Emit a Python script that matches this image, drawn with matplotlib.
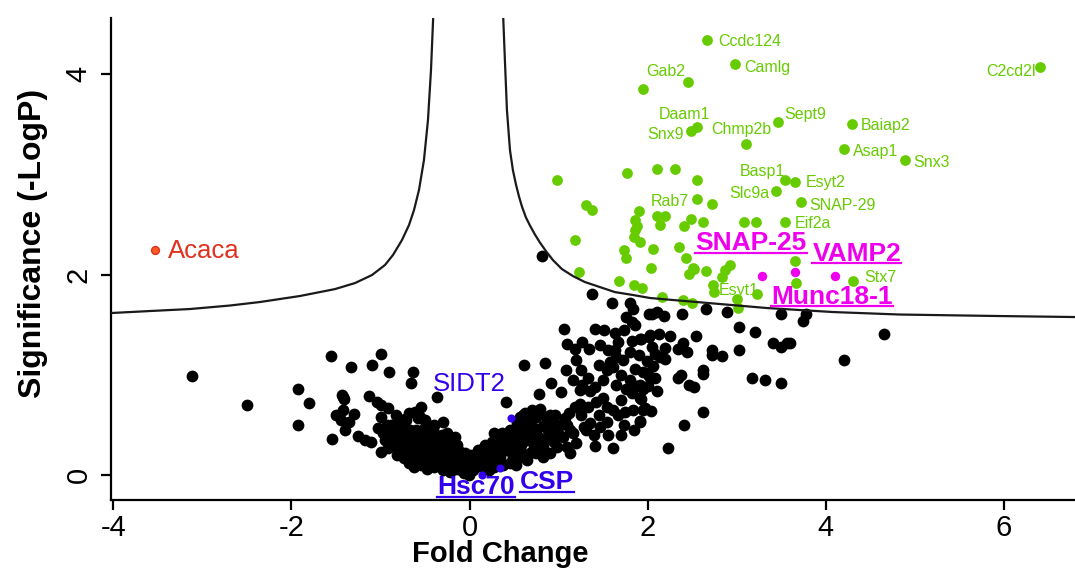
import matplotlib
matplotlib.use("Agg")
import matplotlib.pyplot as plt

plt.rcParams['font.family'] = ['Liberation Sans', 'DejaVu Sans']
plt.rcParams['axes.unicode_minus'] = False

# --- data -------------------------------------------------------------
# not significant proteins (fold change, -log10 p)
black_pts = [
    (-3.12, 0.99), (-2.50, 0.70), (-1.93, 0.86), (-1.80, 0.72), (-1.93, 0.50), (-1.56, 1.19),
    (-1.33, 1.08), (-1.09, 1.10), (-0.99, 1.21), (-0.90, 1.03), (-0.64, 1.03), (-0.66, 0.92),
    (-1.43, 0.80), (-1.41, 0.76), (-1.13, 0.79), (-1.04, 0.73), (-1.00, 0.70), (-0.92, 0.67),
    (-0.54, 0.68), (-1.42, 0.65), (-1.50, 0.60), (-1.30, 0.61), (-1.44, 0.55), (-1.35, 0.53),
    (-0.99, 0.58), (-0.93, 0.50), (-0.80, 0.52), (-0.72, 0.56), (-0.61, 0.63), (-0.58, 0.57),
    (-1.40, 0.45), (-1.54, 0.36), (-1.25, 0.39), (-1.17, 0.35), (-1.11, 0.33), (-1.03, 0.47),
    (-0.97, 0.42), (-0.87, 0.38), (-0.99, 0.23), (-0.92, 0.27), (-0.74, 0.17), (-0.67, 0.45),
    (-0.74, 0.35), (-0.63, 0.38), (-0.67, 0.25), (-0.59, 0.17), (-0.52, 0.28), (-0.37, 0.78),
    (-1.42, 0.78), (-0.56, 0.58), (-0.71, 0.55), (-0.87, 0.43), (-0.91, 0.33), (-0.67, 0.43),
    (-0.72, 0.35), (-0.78, 0.28), (-0.70, 0.25), (-0.63, 0.17), (-0.52, 0.35), (-0.46, 0.28),
    (-0.43, 0.47), (-0.40, 0.50), (-0.30, 0.53), (-0.31, 0.40), (-0.22, 0.33), (-0.20, 0.25),
    (-0.27, 0.22), (-0.37, 0.18), (-0.43, 0.15), (-0.33, 0.12), (-0.20, 0.13), (-0.13, 0.17),
    (-0.09, 0.10), (0.00, 0.05), (-0.01, 0.00), (0.10, 0.25), (0.17, 0.30), (0.27, 0.42),
    (0.25, 0.33), (0.32, 0.23), (0.40, 0.35), (0.41, 0.26), (0.49, 0.20), (0.53, 0.42),
    (0.53, 0.52), (0.57, 0.58), (0.62, 0.62), (0.58, 0.30), (0.60, 0.18), (0.19, 0.12),
    (0.24, 0.15), (0.41, 0.73), (-0.41, 0.47), (-0.26, 0.35), (-0.18, 0.27), (-0.11, 0.18),
    (-0.03, 0.08), (0.04, 0.05), (0.12, 0.25), (-0.55, 0.10), (-0.48, 0.06), (-0.40, 0.08),
    (-0.30, 0.05), (-0.22, 0.03), (-0.15, 0.06), (-0.06, 0.02), (0.05, 0.12), (0.15, 0.08),
    (0.22, 0.05), (0.30, 0.14), (0.38, 0.10), (0.08, 0.18), (0.20, 0.20), (-0.50, 0.20),
    (-0.58, 0.32), (-0.82, 0.20), (-0.85, 0.30), (-0.62, 0.08), (-0.48, 0.40), (-0.36, 0.32),
    (-0.14, 0.30), (0.02, 0.20), (0.33, 0.32), (0.45, 0.45), (-0.80, 0.45), (-0.95, 0.35),
    (-0.68, 0.12), (0.81, 2.19),
    (-0.75, 0.45), (-0.70, 0.40), (-0.60, 0.45), (-0.55, 0.40), (-0.50, 0.48), (-0.45, 0.35),
    (-0.38, 0.40), (-0.35, 0.25), (-0.28, 0.28), (-0.25, 0.15), (-0.18, 0.20), (-0.12, 0.24),
    (-0.08, 0.15), (-0.05, 0.22), (-0.60, 0.22), (-0.55, 0.28), (-0.47, 0.20), (-0.42, 0.25),
    (-0.38, 0.10), (-0.28, 0.10), (-0.65, 0.30), (-0.80, 0.35), (-0.76, 0.22), (-0.88, 0.50),
    (-0.83, 0.60), (-0.68, 0.62), (-0.50, 0.55), (-0.46, 0.13), (-0.25, 0.42), (-0.16, 0.38),
    (-0.10, 0.05), (0.00, 0.12), (0.07, 0.08), (0.12, 0.15), (0.16, 0.22), (0.22, 0.28),
    (0.28, 0.20), (0.28, 0.08), (0.35, 0.25), (0.37, 0.42), (0.44, 0.31), (0.47, 0.38),
    (0.52, 0.27), (0.55, 0.35), (0.62, 0.45), (0.66, 0.40), (0.68, 0.22), (0.70, 0.35),
    (0.75, 0.42), (0.80, 0.30), (0.86, 0.35), (0.88, 0.45), (0.95, 0.33), (1.00, 0.40),
    (1.02, 0.50), (0.96, 0.60), (1.10, 0.50), (1.12, 0.62), (0.86, 0.58), (0.75, 0.58),
    (0.70, 0.65), (0.66, 0.50), (0.52, 0.10), (0.56, 0.20),
    (1.37, 1.81), (1.60, 1.72), (1.80, 1.72), (1.84, 1.66), (1.76, 1.58), (1.82, 1.53),
    (1.86, 1.50), (2.01, 1.61), (1.06, 1.46), (1.41, 1.46), (1.51, 1.45), (1.63, 1.42),
    (1.73, 1.45), (1.67, 1.33), (1.82, 1.34), (1.93, 1.36), (2.01, 1.38), (1.10, 1.31),
    (1.18, 1.26), (1.26, 1.33), (1.34, 1.26), (1.63, 1.25), (1.80, 1.23), (1.65, 1.18),
    (1.58, 1.13), (1.54, 1.05), (1.61, 1.08), (1.99, 1.14), (1.86, 1.06), (1.99, 1.02),
    (0.61, 1.10), (0.85, 1.12), (1.08, 1.05), (1.16, 0.95), (1.33, 0.97), (1.26, 0.90),
    (1.41, 0.88), (0.92, 0.92), (1.03, 0.83), (0.78, 0.81), (1.24, 0.85), (1.35, 0.84),
    (1.50, 0.77), (1.80, 0.95), (1.76, 0.86), (1.87, 0.89), (1.82, 0.82), (1.92, 0.77),
    (1.95, 0.86), (2.01, 0.99), (0.79, 0.66), (0.60, 0.60), (0.68, 0.55), (0.90, 0.60),
    (0.94, 0.53), (1.07, 0.57), (1.18, 0.68), (1.24, 0.71), (1.33, 0.68), (1.42, 0.73),
    (1.54, 0.68), (1.61, 0.65), (1.67, 0.60), (1.75, 0.63), (1.84, 0.65), (1.95, 0.65),
    (1.73, 0.50), (1.91, 0.54), (0.55, 0.52), (0.57, 0.42), (0.72, 0.47), (0.83, 0.49),
    (0.98, 0.45), (1.13, 0.45), (1.28, 0.48), (1.35, 0.52), (1.46, 0.48), (1.54, 0.53),
    (1.31, 0.45), (0.42, 0.38), (0.49, 0.32), (0.64, 0.35), (0.79, 0.37), (0.90, 0.38),
    (1.05, 0.38), (1.16, 0.42), (1.20, 0.32), (1.09, 0.28), (0.98, 0.28), (0.83, 0.28),
    (0.72, 0.28), (0.57, 0.25), (0.42, 0.25), (0.49, 0.18), (0.34, 0.18), (0.75, 0.22),
    (0.90, 0.22), (1.13, 0.22), (1.41, 0.29), (1.61, 0.27), (0.45, 0.12), (0.64, 0.15),
    (0.83, 0.18),
    (1.45, 1.10), (1.50, 0.95), (1.70, 1.00), (1.70, 0.75), (1.45, 0.60), (1.25, 0.60),
    (1.40, 0.40), (1.55, 0.40), (1.70, 0.40), (1.85, 0.45), (1.65, 0.90), (1.72, 1.15),
    (1.90, 1.20), (1.47, 1.30), (1.55, 1.25), (1.25, 1.05), (1.20, 1.15),
    (2.05, 1.61), (2.10, 1.63), (2.18, 1.59), (2.39, 1.61), (2.66, 1.66), (2.89, 1.63),
    (3.50, 1.61), (3.03, 1.48), (3.21, 1.43), (1.91, 1.36), (2.03, 1.40), (2.13, 1.41),
    (2.25, 1.39), (2.54, 1.39), (2.40, 1.32), (2.34, 1.26), (2.44, 1.23), (2.05, 1.28),
    (2.20, 1.27), (2.08, 1.21), (2.14, 1.18), (2.19, 1.16), (2.72, 1.25), (2.72, 1.20),
    (2.84, 1.19), (3.03, 1.25), (3.41, 1.32), (3.50, 1.28), (3.57, 1.32), (1.95, 1.03),
    (2.06, 1.09), (2.08, 0.97), (2.34, 0.97), (2.38, 1.00), (2.62, 1.05), (2.62, 1.01),
    (2.47, 0.90), (2.52, 0.88), (1.91, 0.90), (2.00, 0.89), (2.11, 0.84), (1.93, 0.76),
    (1.97, 0.67), (2.04, 0.64), (1.91, 0.53), (2.62, 0.63), (2.41, 0.50), (2.23, 0.27),
    (3.17, 0.97), (3.32, 0.95), (3.50, 0.92), (3.78, 1.61), (3.75, 1.54), (3.60, 1.32),
    (4.20, 1.15), (4.66, 1.41),
]
black_x = [p[0] for p in black_pts]
black_y = [p[1] for p in black_pts]

# significantly enriched proteins
green_x = [2.67, 2.98, 6.41, 2.45, 1.95, 2.56, 2.49, 3.46, 3.11, 4.29, 4.20, 4.89,
           0.98, 1.77, 2.10, 2.31, 2.56, 2.56, 2.72, 1.31, 1.37, 1.90, 1.86, 2.10,
           2.19, 2.14, 2.49, 2.62, 2.41, 1.86, 1.85, 1.92, 1.18, 1.74, 1.76, 2.06,
           2.35, 2.43, 2.04, 2.51, 2.47, 2.66, 2.87, 2.92, 2.84, 1.23, 1.68, 1.85,
           1.94, 2.73, 2.74, 2.16, 2.40, 2.50, 3.00, 3.01, 3.23, 3.54, 3.66, 3.44,
           3.72, 3.08, 3.22, 3.54, 3.65, 3.67, 4.31, 1.88, 2.52]
green_y = [4.34, 4.10, 4.07, 3.92, 3.85, 3.47, 3.43, 3.52, 3.30, 3.50, 3.25, 3.14,
           2.94, 3.01, 3.05, 3.05, 2.94, 2.75, 2.70, 2.69, 2.64, 2.63, 2.54, 2.58,
           2.58, 2.49, 2.55, 2.52, 2.48, 2.44, 2.37, 2.32, 2.34, 2.24, 2.17, 2.25,
           2.27, 2.17, 2.07, 2.07, 2.01, 2.04, 2.05, 2.10, 1.98, 2.03, 1.94, 1.90,
           1.87, 1.90, 1.83, 1.78, 1.75, 1.72, 1.76, 1.67, 1.81, 2.94, 2.92, 2.83,
           2.72, 2.52, 2.52, 2.52, 2.14, 1.92, 1.94, 2.48, 2.06]

# green labels: text, x, y (baseline), alignment
green_labels = ["Ccdc124", "Camlg", "C2cd2l", "Gab2", "Daam1", "Snx9", "Chmp2b", "Sept9",
                "Baiap2", "Asap1", "Snx3", "Basp1", "Esyt2", "Slc9a", "SNAP-29", "Eif2a",
                "Rab7", "Esyt1", "Stx7"]
green_lab_x = [2.79, 3.09, 6.36, 2.42, 2.41, 2.41, 2.72, 3.53, 4.39, 4.31, 4.98, 3.03,
               3.78, 3.37, 3.81, 3.65, 2.46, 2.80, 4.43]
green_lab_y = [4.28, 4.02, 3.98, 3.98, 3.55, 3.35, 3.40, 3.55, 3.44, 3.18, 3.07, 2.98,
               2.87, 2.76, 2.64, 2.46, 2.68, 1.80, 1.93]
green_lab_ha = ["left", "left", "right", "right", "center", "right", "left", "left",
                "left", "left", "left", "left", "left", "right", "left", "left",
                "right", "left", "left"]

# SNARE proteins
magenta_x = [3.29, 3.66, 4.11]
magenta_y = [1.99, 2.03, 1.99]
magenta_labels = ["SNAP-25", "VAMP2", "Munc18-1"]
magenta_lab_x = [3.16, 4.35, 4.07]
magenta_lab_y = [2.24, 2.14, 1.71]

# chaperones
blue_x = [0.47, 0.14, 0.34]
blue_y = [0.57, 0.00, 0.07]
blue_labels = ["SIDT2", "Hsc70", "CSP"]
blue_lab_x = [0.00, 0.07, 0.87]
blue_lab_y = [0.84, -0.19, -0.14]

acaca_x, acaca_y = [-3.53], [2.24]

# significance threshold curves
left_curve_x = [-4.026, -3.588, -3.139, -2.690, -2.353, -1.904, -1.511, -1.287, -1.096,
                -0.950, -0.860, -0.759, -0.680, -0.624, -0.568, -0.512, -0.467, -0.433,
                -0.405]
left_curve_y = [1.616, 1.636, 1.656, 1.691, 1.726, 1.786, 1.855, 1.915, 1.995,
                2.095, 2.195, 2.344, 2.494, 2.643, 2.843, 3.142, 3.541, 4.040,
                4.638]
right_curve_x = [0.375, 0.397, 0.420, 0.454, 0.487, 0.521, 0.555, 0.588, 0.633, 0.678,
                 0.734, 0.790, 0.858, 0.936, 1.037, 1.161, 1.296, 1.464, 1.632, 1.835,
                 2.027, 2.284, 2.812, 3.339, 4.080, 4.832, 5.955, 6.797]
right_curve_y = [4.638, 4.140, 3.641, 3.242, 3.042, 2.900, 2.780, 2.680, 2.570, 2.490,
                 2.400, 2.320, 2.234, 2.145, 2.055, 1.985, 1.925, 1.875, 1.825, 1.796,
                 1.766, 1.746, 1.706, 1.666, 1.626, 1.601, 1.586, 1.576]

GREEN = "#66cc00"
MAGENTA = "#ee00ee"
BLUE = "#3300ee"
RED = "#e0301e"

fig = plt.figure(figsize=(10.75, 5.79), dpi=100)
ax = fig.add_axes([0.103, 0.1364, 0.897, 0.8325])

ax.scatter(black_x, black_y, s=72, color="black", linewidths=0, zorder=2)
ax.scatter(green_x, green_y, s=60, color=GREEN, linewidths=0, zorder=2)
ax.scatter(magenta_x, magenta_y, s=46, color=MAGENTA, linewidths=0, zorder=2)
ax.scatter(blue_x, blue_y, s=34, color=BLUE, linewidths=0, zorder=2)
ax.scatter(acaca_x, acaca_y, s=32, color="#ff5a1e", edgecolors=RED, linewidths=1, zorder=2)

ax.plot(left_curve_x, left_curve_y, color="#1a1a1a", lw=1.6, zorder=3)
ax.plot(right_curve_x, right_curve_y, color="#1a1a1a", lw=1.6, zorder=3)

for t, x, y, ha in zip(green_labels, green_lab_x, green_lab_y, green_lab_ha):
    ax.text(x, y, t, color=GREEN, fontsize=11.5, ha=ha, va="baseline", zorder=4)

ax.text(-3.39, 2.17, "Acaca", color=RED, fontsize=18.5, ha="left", va="baseline")
ax.text(blue_lab_x[0], blue_lab_y[0], blue_labels[0], color=BLUE, fontsize=18.5,
        ha="center", va="baseline")

underlined = []
for t, x, y in zip(magenta_labels, magenta_lab_x, magenta_lab_y):
    underlined.append(ax.text(x, y, t, color=MAGENTA, fontsize=19, fontweight="bold",
                              ha="center", va="baseline", zorder=5))
for t, x, y in zip(blue_labels[1:], blue_lab_x[1:], blue_lab_y[1:]):
    underlined.append(ax.text(x, y, t, color=BLUE, fontsize=19, fontweight="bold",
                              ha="center", va="baseline", zorder=5))

ax.set_xlim(-4.03, 6.80)
ax.set_ylim(-0.25, 4.56)
ax.set_xticks([-4, -2, 0, 2, 4, 6])
ax.set_yticks([0, 2, 4])
for s in ["top", "right"]:
    ax.spines[s].set_visible(False)
for s in ["left", "bottom"]:
    ax.spines[s].set_linewidth(1.6)
ax.tick_params(axis="both", length=7, width=1.6, labelsize=21)
ax.tick_params(axis="x", pad=3)
ax.tick_params(axis="y", pad=6)
for lab in ax.get_yticklabels():
    lab.set_rotation(90)
    lab.set_va("center")

ax.set_xlabel("Fold Change", fontsize=21, fontweight="bold")
ax.xaxis.set_label_coords(0.404, -0.083)
ax.set_ylabel("Significance (-LogP)", fontsize=23, fontweight="bold")
ax.yaxis.set_label_coords(-0.065, 0.533)

# underline the highlighted protein names
fig.canvas.draw()
inv = ax.transData.inverted()
for txt in underlined:
    bb = txt.get_window_extent()
    (x0, _), (x1, _) = inv.transform([(bb.x0, bb.y0), (bb.x1, bb.y0)])
    yb = txt.get_position()[1] - 0.025
    ax.plot([x0, x1], [yb, yb], color=txt.get_color(), lw=1.6, zorder=5, clip_on=False)

fig.savefig("out.png", dpi=100)
